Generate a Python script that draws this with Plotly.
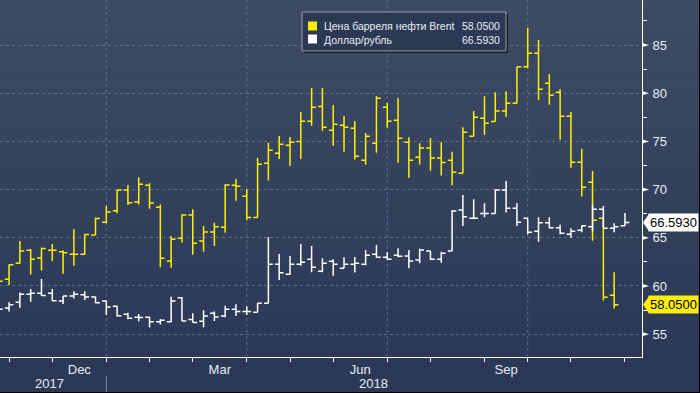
import plotly.graph_objects as go
import pandas as pd

# ---------------- data ----------------
week_dates = [d.strftime("%Y-%m-%d") for d in pd.date_range("2017-10-27", "2018-12-07", freq="7D")]

series_names = ["Цена барреля нефти Brent", "Доллар/рубль"]

brent_open = [58.0, 60.7, 62.35, 63.7, 62.9, 63.7, 63.56, 63.3, 63.3, 65.3,
              66.6, 67.8, 69.96, 68.7, 70.45, 68.16, 62.6, 64.94, 67.37, 64.67,
              65.6, 66.1, 70.45, 69.3, 67.1, 72.73, 73.76, 74.6, 75.0, 77.08,
              78.63, 76.15, 76.67, 76.36, 73.04, 74.8, 78.53, 77.19, 74.9, 73.35,
              74.32, 73.28, 73.04, 71.7, 75.53, 77.4, 77.07, 78.15, 78.95, 82.75,
              84.14, 81.02, 80.09, 77.6, 72.83, 70.75, 67.02, 59.03]
brent_high = [60.6, 62.25, 64.67, 63.84, 64.0, 64.36, 63.7, 65.9, 65.36, 67.1,
              68.3, 69.96, 70.48, 71.27, 70.65, 68.45, 65.19, 67.43, 67.95, 66.22,
              66.57, 70.55, 71.1, 70.03, 73.3, 74.87, 75.56, 75.45, 78.05, 80.54,
              80.54, 78.78, 77.63, 77.12, 75.87, 79.71, 78.98, 79.5, 75.42, 74.8,
              75.35, 74.9, 73.93, 76.46, 78.15, 79.68, 80.09, 80.2, 82.75, 86.76,
              85.52, 81.99, 80.4, 78.05, 74.21, 71.93, 67.02, 61.42]
brent_low = [57.6, 60.1, 62.3, 61.2, 61.6, 62.6, 61.28, 62.1, 63.25, 65.3,
             66.5, 67.54, 68.4, 68.45, 68.02, 61.94, 61.9, 64.5, 63.25, 63.56,
             64.15, 65.53, 68.85, 66.81, 67.1, 70.93, 73.17, 72.45, 73.17, 76.63,
             76.11, 74.56, 73.93, 73.13, 72.58, 73.83, 76.42, 72.79, 71.24, 72.59,
             71.96, 71.45, 70.44, 71.7, 75.53, 75.67, 77.07, 77.56, 78.95, 82.6,
             79.29, 78.81, 75.18, 72.27, 69.27, 64.7, 58.48, 57.65]
brent_close = [60.5, 62.2, 63.63, 62.77, 63.9, 63.7, 63.45, 63.3, 65.35, 67.0,
               67.68, 69.96, 68.64, 70.55, 68.6, 62.87, 64.84, 67.37, 64.43, 65.6,
               66.15, 70.48, 70.35, 67.1, 72.62, 74.07, 74.7, 74.9, 77.08, 78.53,
               76.46, 76.77, 76.46, 73.45, 75.53, 79.47, 77.08, 75.32, 73.04, 74.32,
               73.28, 72.8, 71.79, 75.94, 77.5, 76.87, 78.15, 78.95, 82.75, 84.14,
               80.4, 79.78, 77.6, 72.83, 70.23, 66.81, 58.82, 58.05]

usd_open = [57.8, 57.72, 58.31, 59.14, 59.24, 59.24, 58.44, 58.97, 59.1, 58.86,
            58.44, 57.9, 57.06, 56.76, 56.76, 56.3, 56.3, 58.79, 56.51, 56.33,
            57.17, 56.89, 57.58, 57.34, 57.27, 58.2, 62.25, 61.21, 62.25, 62.77,
            61.52, 62.56, 61.83, 62.25, 62.25, 63.29, 62.98, 63.18, 63.1, 62.7,
            63.63, 62.77, 63.63, 67.88, 67.02, 67.53, 67.53, 69.96, 68.06, 67.02,
            65.67, 66.57, 66.05, 65.36, 65.77, 66.15, 67.95, 65.98, 66.26]
usd_high = [58.0, 58.31, 59.31, 59.69, 60.73, 59.69, 58.97, 59.45, 59.45, 58.9,
            58.47, 57.93, 57.23, 57.1, 56.82, 56.58, 58.89, 58.86, 57.17, 57.48,
            57.34, 57.96, 58.1, 57.86, 58.2, 65.05, 63.32, 63.11, 64.36, 64.15,
            62.87, 62.77, 62.98, 63.01, 63.73, 64.25, 63.49, 63.91, 63.73, 63.87,
            63.63, 63.56, 67.88, 69.44, 69.0, 68.58, 70.03, 70.9, 68.58, 67.02,
            67.12, 67.12, 66.36, 65.98, 66.26, 68.37, 68.3, 66.5, 67.57]
usd_low = [57.4, 57.34, 57.75, 58.37, 58.99, 58.44, 58.13, 58.69, 58.55, 58.2,
           57.0, 56.82, 56.54, 56.33, 55.68, 55.99, 56.23, 56.37, 56.2, 55.72,
           56.37, 56.76, 56.89, 57.0, 57.27, 58.2, 60.62, 61.14, 62.1, 61.42,
           61.42, 61.07, 61.83, 61.39, 62.15, 62.94, 62.7, 62.98, 61.83, 62.35,
           62.7, 62.42, 63.63, 66.22, 67.02, 67.12, 67.53, 67.63, 66.22, 65.36,
           64.6, 65.98, 65.36, 65.01, 65.57, 65.67, 65.98, 65.57, 66.26]
usd_close = [57.58, 58.06, 59.14, 59.24, 59.0, 58.47, 58.95, 59.14, 58.86, 58.27,
             57.82, 56.9, 56.65, 56.72, 56.3, 56.44, 58.44, 56.37, 56.2, 56.89,
             56.79, 57.58, 57.34, 57.34, 58.2, 62.25, 61.38, 62.25, 62.46, 61.94,
             62.35, 62.25, 62.25, 62.35, 63.18, 62.98, 62.77, 63.08, 62.59, 63.73,
             62.77, 63.39, 67.78, 67.19, 67.02, 67.53, 69.96, 68.06, 66.61, 65.57,
             66.57, 66.05, 65.46, 65.67, 66.26, 67.95, 65.98, 66.15, 66.593]

y_ticks = [55, 60, 65, 70, 75, 80, 85]
month_labels = ["Dec", "Mar", "Jun", "Sep"]
label_months = [(2017, 12), (2018, 3), (2018, 6), (2018, 9)]
grid_months = [(2018, 1), (2018, 4), (2018, 7), (2018, 10)]
year_labels = ["2017", "2018"]

# ---------------- styling / layout helpers ----------------
YELLOW = "#fff000"
WHITE = "#ffffff"
GRID = "rgba(115,135,165,0.65)"
TXT = "rgb(232,236,244)"
FONT = "Liberation Sans, Arial, sans-serif"
W, H = 700, 393
PR, PB = 642, 357           # plot area right / bottom (px)
x_range = ["2017-10-28 03:00", "2018-12-18 01:00"]
y_range = [52.63, 89.67]


def px_x(px):
    return px / PR


def px_y(py):
    return (PB - py) / PB


ts = pd.to_datetime(week_dates)
first_of_month = {}
for d in ts:
    first_of_month.setdefault((d.year, d.month), d)
month_ticks = [d for d in first_of_month.values() if d > pd.Timestamp(x_range[0])]


def next_month(ym):
    y, m = ym
    return (y + 1, 1) if m == 12 else (y, m + 1)


label_vals = []
for ym in label_months:
    a = first_of_month[ym]
    b = first_of_month[next_month(ym)]
    label_vals.append(a + (b - a) / 2)

minor_y = [v + 2.5 for v in y_ticks]

fig = go.Figure()
fig.add_trace(go.Ohlc(
    x=week_dates[:len(brent_close)], open=brent_open, high=brent_high,
    low=brent_low, close=brent_close, name=series_names[0],
    increasing=dict(line=dict(color=YELLOW, width=1.5)),
    decreasing=dict(line=dict(color=YELLOW, width=1.5)),
    tickwidth=0.4, showlegend=False))
fig.add_trace(go.Ohlc(
    x=week_dates[:len(usd_close)], open=usd_open, high=usd_high,
    low=usd_low, close=usd_close, name=series_names[1],
    increasing=dict(line=dict(color=WHITE, width=1.5)),
    decreasing=dict(line=dict(color=WHITE, width=1.5)),
    tickwidth=0.4, showlegend=False))

shapes = []
# background gradient
top_c = (62, 75, 100)
bot_c = (43, 57, 87)
n = 36
for i in range(n):
    t = i / (n - 1)
    c = tuple(round(top_c[k] + (bot_c[k] - top_c[k]) * t) for k in range(3))
    y0 = PB * i / n
    y1 = PB * (i + 1) / n
    shapes.append(dict(type="rect", xref="paper", yref="paper", layer="below",
                       x0=0, x1=px_x(W), y0=px_y(y1) - 0.001, y1=px_y(y0),
                       fillcolor="rgb(%d,%d,%d)" % c, line=dict(width=0)))
# quarterly vertical grid lines
for ym in grid_months:
    d = first_of_month[ym]
    shapes.append(dict(type="line", xref="x", yref="paper", x0=d, x1=d, y0=0, y1=1,
                       line=dict(color=GRID, width=1, dash="3px,3px"), layer="below"))
# year separator
sep = first_of_month[(2018, 1)]
shapes.append(dict(type="line", xref="x", yref="paper", x0=sep, x1=sep,
                   y0=px_y(376), y1=px_y(393), line=dict(color="rgb(125,135,155)", width=1)))
# y axis triangle markers at major ticks
for v in y_ticks:
    shapes.append(dict(type="path", xref="paper", yref="y",
                       path="M 1,%f L %f,%f L 1,%f Z" % (v + 0.22, 1 + 7 / PR, v, v - 0.22),
                       fillcolor=WHITE, line=dict(width=0)))
# last-value arrows
for val, col in [(usd_close[-1], WHITE), (brent_close[-1], YELLOW)]:
    shapes.append(dict(type="path", xref="paper", yref="y",
                       path="M %f,%f L %f,%f L %f,%f Z" % (px_x(643), val, px_x(649), val + 0.88,
                                                           px_x(649), val - 0.88),
                       fillcolor=col, line=dict(width=0)))
# legend box (shadow + box)
shapes.append(dict(type="rect", xref="paper", yref="paper",
                   x0=px_x(304), x1=px_x(508), y0=px_y(53), y1=px_y(14),
                   fillcolor="rgba(0,0,0,0.6)", line=dict(width=0)))
shapes.append(dict(type="rect", xref="paper", yref="paper",
                   x0=px_x(302), x1=px_x(506), y0=px_y(51), y1=px_y(12),
                   fillcolor="rgb(44,57,85)", line=dict(color="rgb(150,158,172)", width=1)))
shapes.append(dict(type="rect", xref="paper", yref="paper",
                   x0=px_x(308), x1=px_x(317), y0=px_y(30.5), y1=px_y(21.5),
                   fillcolor=YELLOW, line=dict(width=0)))
shapes.append(dict(type="rect", xref="paper", yref="paper",
                   x0=px_x(308), x1=px_x(317), y0=px_y(43.5), y1=px_y(34.5),
                   fillcolor=WHITE, line=dict(width=0)))
# outer dark frame (bottom / right)
shapes.append(dict(type="line", xref="paper", yref="paper", x0=0, x1=px_x(W),
                   y0=px_y(392.5), y1=px_y(392.5), line=dict(color="black", width=1)))
shapes.append(dict(type="line", xref="paper", yref="paper", x0=px_x(699.5), x1=px_x(699.5),
                   y0=px_y(0), y1=px_y(393), line=dict(color="black", width=1)))

annotations = []
rows = [(series_names[0], brent_close[-1], 26), (series_names[1], usd_close[-1], 39.5)]
for name, val, py in rows:
    annotations.append(dict(xref="paper", yref="paper", x=px_x(322), y=px_y(py),
                            xanchor="left", yanchor="middle", showarrow=False, text=name,
                            font=dict(family=FONT, size=10.5, color=TXT)))
    annotations.append(dict(xref="paper", yref="paper", x=px_x(502), y=px_y(py),
                            xanchor="right", yanchor="middle", showarrow=False,
                            text="%.4f" % val, font=dict(family=FONT, size=10.5, color=TXT)))
for val, col in [(usd_close[-1], WHITE), (brent_close[-1], YELLOW)]:
    annotations.append(dict(xref="paper", yref="y", x=px_x(648), y=val, xanchor="left",
                            yanchor="middle", showarrow=False, text="%.4f" % val,
                            bgcolor=col, borderpad=1,
                            font=dict(family=FONT, size=13, color="black")))
for txt, pxx in zip(year_labels, [49, 374]):
    annotations.append(dict(xref="paper", yref="paper", x=px_x(pxx), y=px_y(383.5),
                            xanchor="center", yanchor="middle", showarrow=False, text=txt,
                            font=dict(family=FONT, size=13, color=TXT)))

fig.update_layout(
    width=W, height=H,
    margin=dict(l=0, r=W - PR, t=0, b=H - PB),
    paper_bgcolor="rgb(43,57,87)",
    plot_bgcolor="rgba(0,0,0,0)",
    showlegend=False,
    shapes=shapes,
    annotations=annotations,
    xaxis=dict(type="date", range=x_range, rangeslider=dict(visible=False),
               showgrid=False, zeroline=False, showline=True, linecolor=WHITE, linewidth=1,
               tickmode="array", tickvals=label_vals, ticktext=month_labels, ticks="",
               tickfont=dict(family=FONT, size=13, color=TXT),
               minor=dict(tickmode="array", tickvals=month_ticks, ticks="outside",
                          ticklen=4, tickwidth=1, tickcolor=WHITE, showgrid=False)),
    yaxis=dict(side="right", range=y_range, tickmode="array", tickvals=y_ticks,
               ticktext=[str(v) for v in y_ticks], ticks="outside", ticklen=7,
               tickcolor="rgba(0,0,0,0)", showline=True, linecolor=WHITE, linewidth=1,
               showgrid=True, gridcolor=GRID, gridwidth=1, griddash="3px,3px",
               zeroline=False, tickfont=dict(family=FONT, size=13, color=TXT),
               minor=dict(tickmode="array", tickvals=minor_y, ticks="outside",
                          ticklen=4, tickwidth=1, tickcolor=WHITE, showgrid=False)),
)

fig.write_html("out.html", config={"displayModeBar": False},
               post_script="document.body.style.margin='0px';document.body.style.overflow='hidden';")
